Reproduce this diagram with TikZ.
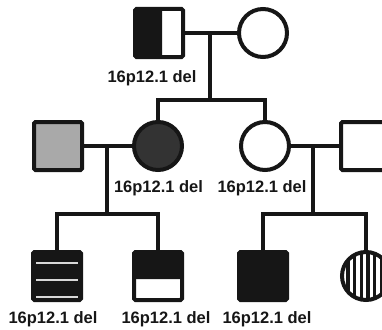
\documentclass[tikz,border=0pt]{standalone}
\usepackage{fontspec}
\setmainfont{Liberation Sans}
\usetikzlibrary{calc}
\definecolor{ink}{HTML}{161616}
\definecolor{midgray}{HTML}{A9A9A9}
\definecolor{darkfill}{HTML}{333333}
\definecolor{stripe}{HTML}{D8D8D8}
\begin{document}
\begin{tikzpicture}[x=1pt,y=-1pt,
  ped/.style={draw=ink,line width=4pt,fill=white,minimum size=48pt,inner sep=0pt,outer sep=0pt},
  male/.style={ped,rectangle,rounded corners=1.5pt},
  female/.style={ped,circle},
  link/.style={draw=ink,line width=4pt},
  lbl/.style={font=\fontsize{16.5}{18}\selectfont\bfseries,text=ink,inner sep=0pt},
  lefthalf/.style={path picture={\fill[ink] (path picture bounding box.north west) rectangle ([xshift=27pt]path picture bounding box.south west);}},
  tophalf/.style={path picture={\fill[ink] (path picture bounding box.north west) rectangle ([yshift=-27pt]path picture bounding box.north east);}},
  hlines/.style={path picture={
    \foreach \dy in {-13,4,21}
      \draw[stripe,line width=2pt] ([shift={(-21pt,-\dy pt)}]path picture bounding box.center) -- ([shift={(21pt,-\dy pt)}]path picture bounding box.center);}},
  vlines/.style={path picture={
    \foreach \dx in {-18,-11.3,-4.6,2.1,8.8,15.5,22.2}
      \draw[ink,line width=3.3pt] ([shift={(\dx pt,-30pt)}]path picture bounding box.center) -- ([shift={(\dx pt,30pt)}]path picture bounding box.center);}}
]
\useasboundingbox (0,0) rectangle (382,329);

% generation I
\node[male,lefthalf] (gf) at (159,33) {};
\node[female] (gm) at (263,33) {};
\node[lbl] (lgf) at (152,78) {16p12.1 del};

% generation II
\node[male,fill=midgray] (p1) at (58,146) {};
\node[female,fill=darkfill] (m1) at (158,146) {};
\node[female] (m2) at (265,146) {};
\node[male] (p2) at (365,146) {};
\node[lbl] (lm1) at (158.5,188) {16p12.1 del};
\node[lbl] (lm2) at (262,188) {16p12.1 del};

% generation III
\node[male,fill=ink,hlines] (c1) at (57,276) {};
\node[male,fill=white,tophalf] (c2) at (158,276) {};
\node[male,fill=ink] (c3) at (263,276) {};
\node[female,vlines] (c4) at (366,276) {};
\node[lbl] (lc1) at (53,319) {16p12.1 del};
\node[lbl] (lc2) at (166,319) {16p12.1 del};
\node[lbl] (lc3) at (267,319) {16p12.1 del};

% mating lines and descent points
\coordinate (u1) at (210,33);
\coordinate (s1) at (210,100);
\coordinate (u2) at (107,146);
\coordinate (s2) at (107,214);
\coordinate (u3) at (313,146);
\coordinate (s3) at (313,214);

\draw[link] (gf.east) -- (gm.west);
\draw[link] (u1) -- (s1);
\draw[link] (m1.north) |- (s1) -| (m2.north);

\draw[link] (p1.east) -- (m1.west);
\draw[link] (u2) -- (s2);
\draw[link] (c1.north) |- (s2) -| (c2.north);

\draw[link] (m2.east) -- (p2.west);
\draw[link] (u3) -- (s3);
\draw[link] (c3.north) |- (s3) -| (c4.north);
\end{tikzpicture}
\end{document}
